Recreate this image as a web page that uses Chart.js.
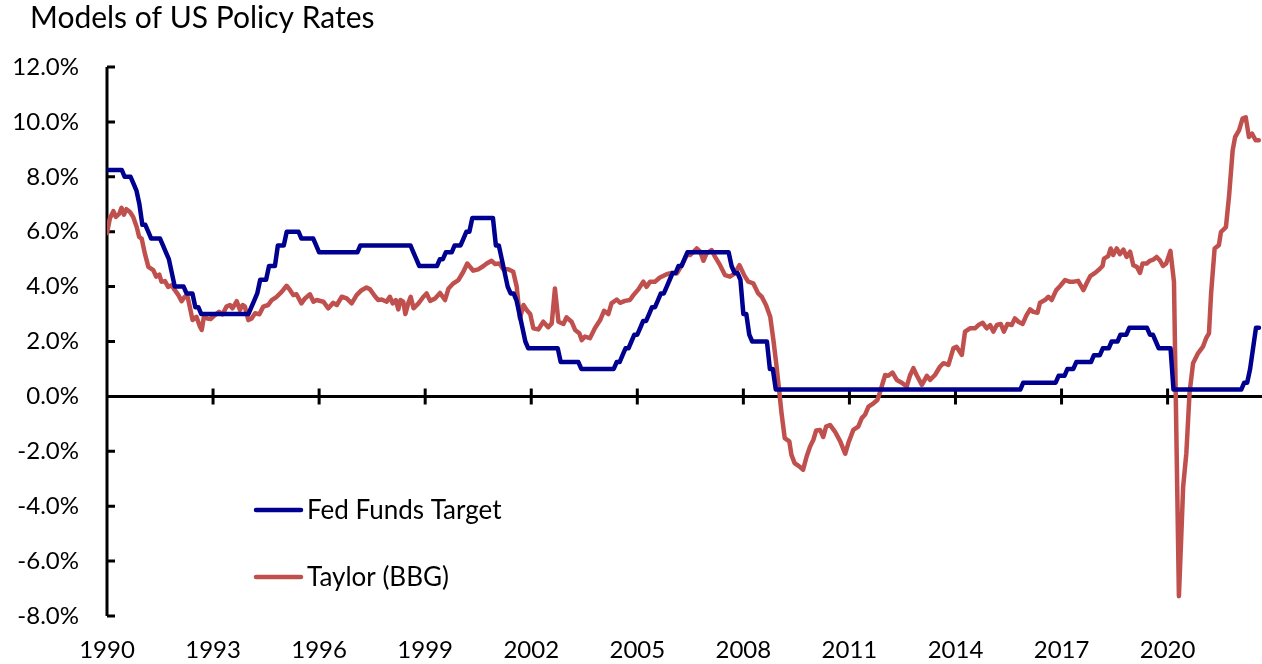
<!DOCTYPE html>
<html>
<head>
<meta charset="utf-8">
<title>Models of US Policy Rates</title>
<script src="https://cdn.jsdelivr.net/npm/chart.js@4.4.1/dist/chart.umd.min.js"></script>
<style>
body { margin: 0; background: #fff; }
#wrap { width: 1262px; height: 664px; position: relative; }
</style>
</head>
<body>
<div id="wrap"><canvas id="myCanvas" width="1262" height="664"></canvas></div>
<script>
var chartTitle = 'Models of US Policy Rates';
var seriesNames = ['Fed Funds Target', 'Taylor (BBG)'];
var xTickYears = [1990, 1993, 1996, 1999, 2002, 2005, 2008, 2011, 2014, 2017, 2020];
var yTickValues = [-8, -6, -4, -2, 0, 2, 4, 6, 8, 10, 12];

// Fed funds target, month end, Jan 1990 .. Aug 2022
var fedStartYear = 1990;
var fedFunds = [
	8.25,8.25,8.25,8.25,8.25,8.25,8.0,8.0,8.0,7.75,7.5,7.0,      // 1990
	6.25,6.25,6.0,5.75,5.75,5.75,5.75,5.5,5.25,5.0,4.5,4.0,      // 1991
	4.0,4.0,4.0,3.75,3.75,3.75,3.25,3.25,3.0,3.0,3.0,3.0,        // 1992
	3.0,3.0,3.0,3.0,3.0,3.0,3.0,3.0,3.0,3.0,3.0,3.0,             // 1993
	3.0,3.25,3.5,3.75,4.25,4.25,4.25,4.75,4.75,4.75,5.5,5.5,     // 1994
	5.5,6.0,6.0,6.0,6.0,6.0,5.75,5.75,5.75,5.75,5.75,5.5,        // 1995
	5.25,5.25,5.25,5.25,5.25,5.25,5.25,5.25,5.25,5.25,5.25,5.25, // 1996
	5.25,5.25,5.5,5.5,5.5,5.5,5.5,5.5,5.5,5.5,5.5,5.5,           // 1997
	5.5,5.5,5.5,5.5,5.5,5.5,5.5,5.5,5.25,5.0,4.75,4.75,          // 1998
	4.75,4.75,4.75,4.75,4.75,5.0,5.0,5.25,5.25,5.25,5.5,5.5,     // 1999
	5.5,5.75,6.0,6.0,6.5,6.5,6.5,6.5,6.5,6.5,6.5,6.5,            // 2000
	5.5,5.5,5.0,4.5,4.0,3.75,3.75,3.5,3.0,2.5,2.0,1.75,          // 2001
	1.75,1.75,1.75,1.75,1.75,1.75,1.75,1.75,1.75,1.75,1.25,1.25, // 2002
	1.25,1.25,1.25,1.25,1.25,1.0,1.0,1.0,1.0,1.0,1.0,1.0,        // 2003
	1.0,1.0,1.0,1.0,1.0,1.25,1.25,1.5,1.75,1.75,2.0,2.25,        // 2004
	2.25,2.5,2.75,2.75,3.0,3.25,3.25,3.5,3.75,3.75,4.0,4.25,     // 2005
	4.5,4.5,4.75,4.75,5.0,5.25,5.25,5.25,5.25,5.25,5.25,5.25,    // 2006
	5.25,5.25,5.25,5.25,5.25,5.25,5.25,5.25,4.75,4.5,4.5,4.25,   // 2007
	3.0,3.0,2.25,2.0,2.0,2.0,2.0,2.0,2.0,1.0,1.0,0.25,           // 2008
	0.25,0.25,0.25,0.25,0.25,0.25,0.25,0.25,0.25,0.25,0.25,0.25, // 2009
	0.25,0.25,0.25,0.25,0.25,0.25,0.25,0.25,0.25,0.25,0.25,0.25, // 2010
	0.25,0.25,0.25,0.25,0.25,0.25,0.25,0.25,0.25,0.25,0.25,0.25, // 2011
	0.25,0.25,0.25,0.25,0.25,0.25,0.25,0.25,0.25,0.25,0.25,0.25, // 2012
	0.25,0.25,0.25,0.25,0.25,0.25,0.25,0.25,0.25,0.25,0.25,0.25, // 2013
	0.25,0.25,0.25,0.25,0.25,0.25,0.25,0.25,0.25,0.25,0.25,0.25, // 2014
	0.25,0.25,0.25,0.25,0.25,0.25,0.25,0.25,0.25,0.25,0.25,0.5,  // 2015
	0.5,0.5,0.5,0.5,0.5,0.5,0.5,0.5,0.5,0.5,0.5,0.75,            // 2016
	0.75,0.75,1.0,1.0,1.0,1.25,1.25,1.25,1.25,1.25,1.25,1.5,     // 2017
	1.5,1.5,1.75,1.75,1.75,2.0,2.0,2.0,2.25,2.25,2.25,2.5,       // 2018
	2.5,2.5,2.5,2.5,2.5,2.5,2.25,2.25,2.0,1.75,1.75,1.75,        // 2019
	1.75,1.75,0.25,0.25,0.25,0.25,0.25,0.25,0.25,0.25,0.25,0.25, // 2020
	0.25,0.25,0.25,0.25,0.25,0.25,0.25,0.25,0.25,0.25,0.25,0.25, // 2021
	0.25,0.25,0.5,0.5,1.0,1.75,2.5,2.5                           // 2022
];

// Taylor rule (BBG)
var taylorDates = [
	1990.00,1990.08,1990.18,1990.25,1990.35,1990.41,1990.48,1990.55,1990.65,1990.74,1990.84,1990.91,1990.98,
	1991.07,1991.17,1991.31,1991.39,1991.48,1991.54,1991.64,1991.73,1991.83,1991.92,
	1992.02,1992.11,1992.20,1992.27,1992.35,1992.42,1992.53,1992.63,1992.68,1992.74,1992.84,1992.93,
	1993.05,1993.17,1993.27,1993.38,1993.48,1993.55,1993.67,1993.76,1993.84,1993.90,
	1994.00,1994.09,1994.19,1994.31,1994.42,1994.56,1994.66,1994.80,1994.94,
	1995.08,1995.18,1995.27,1995.36,1995.50,1995.60,1995.74,1995.84,1995.93,
	1996.12,1996.26,1996.40,1996.50,1996.64,1996.78,1996.92,
	1997.06,1997.20,1997.34,1997.44,1997.58,1997.67,1997.77,1997.91,
	1998.00,1998.08,1998.17,1998.24,1998.30,1998.38,1998.44,1998.52,1998.59,1998.67,1998.81,1998.95,
	1999.04,1999.14,1999.28,1999.42,1999.56,1999.66,1999.80,1999.94,
	2000.08,2000.19,2000.36,2000.50,2000.65,2000.74,2000.88,2000.98,
	2001.10,2001.21,2001.35,2001.49,2001.59,2001.68,2001.78,2001.87,2001.97,
	2002.06,2002.20,2002.34,2002.48,2002.58,2002.67,2002.77,2002.91,
	2003.00,2003.14,2003.24,2003.36,2003.43,2003.52,2003.66,2003.80,2003.95,
	2004.06,2004.18,2004.27,2004.42,2004.51,2004.65,2004.79,2004.89,
	2005.03,2005.17,2005.26,2005.36,2005.50,2005.64,2005.83,2005.97,
	2006.12,2006.26,2006.40,2006.49,2006.59,2006.68,2006.78,2006.87,2006.96,
	2007.10,2007.20,2007.34,2007.48,2007.62,2007.76,2007.89,
	2008.03,2008.14,2008.28,2008.42,2008.52,2008.64,2008.76,2008.85,2008.94,
	2009.02,2009.08,2009.17,2009.30,2009.36,2009.45,2009.58,2009.69,2009.79,2009.89,2009.98,
	2010.06,2010.17,2010.26,2010.34,2010.45,2010.59,2010.74,2010.88,2010.97,
	2011.11,2011.25,2011.35,2011.44,2011.54,2011.68,2011.79,2011.87,
	2012.01,2012.10,2012.22,2012.34,2012.48,2012.62,2012.71,2012.81,2012.90,
	2013.05,2013.19,2013.28,2013.42,2013.56,2013.66,2013.80,2013.94,
	2014.03,2014.18,2014.27,2014.41,2014.55,2014.65,2014.77,2014.88,2014.98,
	2015.07,2015.17,2015.28,2015.37,2015.47,2015.59,2015.68,2015.78,2015.90,
	2016.01,2016.11,2016.20,2016.32,2016.39,2016.53,2016.63,2016.72,2016.85,2016.96,
	2017.10,2017.22,2017.35,2017.47,2017.62,2017.71,2017.81,2017.95,
	2018.07,2018.16,2018.20,2018.32,2018.39,2018.46,2018.56,2018.65,2018.75,2018.84,2018.94,
	2019.03,2019.13,2019.22,2019.29,2019.41,2019.50,2019.59,2019.69,2019.78,2019.87,2019.96,
	2020.08,2020.18,2020.32,2020.39,2020.44,2020.53,2020.62,2020.72,2020.86,
	2021.00,2021.09,2021.17,2021.23,2021.33,2021.45,2021.51,2021.65,2021.74,2021.84,2021.91,
	2022.02,2022.12,2022.21,2022.30,2022.39,2022.49,2022.58
];
var taylorValues = [
	5.95,6.48,6.75,6.54,6.66,6.87,6.62,6.82,6.72,6.54,6.17,5.81,5.75,
	5.21,4.72,4.60,4.36,4.44,4.18,4.20,3.99,4.05,3.87,
	3.69,3.47,3.63,3.69,3.21,2.78,2.90,2.54,2.42,2.90,2.84,2.82,
	2.96,3.08,2.99,3.27,3.33,3.21,3.47,3.15,3.33,3.27,
	2.78,2.84,3.03,2.99,3.27,3.33,3.51,3.63,3.81,
	4.03,3.87,3.69,3.72,3.39,3.57,3.72,3.45,3.51,
	3.45,3.21,3.41,3.33,3.63,3.57,3.39,
	3.69,3.87,3.97,3.90,3.65,3.51,3.53,3.45,
	3.63,3.39,3.51,3.17,3.51,3.45,3.00,3.39,3.63,3.21,3.39,3.63,
	3.75,3.48,3.57,3.77,3.51,3.93,4.12,4.24,
	4.54,4.84,4.58,4.63,4.75,4.84,4.94,4.82,
	4.84,4.63,4.63,4.54,3.99,2.84,3.33,3.15,3.00,
	2.48,2.44,2.72,2.52,2.66,3.93,2.72,2.64,
	2.88,2.72,2.42,2.30,2.05,2.18,2.12,2.48,2.78,
	3.12,3.00,3.39,3.53,3.41,3.48,3.51,3.69,
	3.90,4.18,3.99,4.18,4.18,4.33,4.45,4.50,
	4.48,4.78,5.15,5.15,5.27,5.39,5.27,4.94,5.21,
	5.33,5.08,4.78,4.42,4.36,4.48,4.78,
	4.40,4.18,4.12,3.75,3.63,3.33,2.90,2.05,1.08,
	0.12,-0.61,-1.52,-1.64,-2.13,-2.43,-2.55,-2.67,-2.19,-1.82,-1.58,
	-1.24,-1.22,-1.48,-1.10,-1.04,-1.28,-1.64,-2.09,-1.70,
	-1.22,-1.10,-0.79,-0.67,-0.37,-0.25,-0.13,0.17,
	0.78,0.75,0.87,0.60,0.50,0.36,0.75,1.03,0.78,
	0.42,0.75,0.60,0.78,1.08,1.21,1.15,1.75,
	1.81,1.51,2.36,2.48,2.48,2.60,2.68,2.48,2.60,
	2.36,2.60,2.64,2.36,2.64,2.60,2.84,2.72,2.64,
	2.96,3.17,3.08,3.05,3.41,3.51,3.63,3.51,3.87,4.02,
	4.24,4.18,4.18,4.21,3.87,4.12,4.38,4.50,
	4.63,4.75,5.02,5.11,5.39,5.15,5.39,5.18,5.35,5.08,5.27,
	4.78,4.72,4.50,4.84,4.84,4.94,4.98,5.08,4.96,4.75,4.84,
	5.30,4.18,-7.28,-4.97,-3.28,-2.07,0.12,1.21,1.57,
	1.81,2.12,2.30,3.75,5.39,5.51,5.99,6.17,7.33,8.96,9.45,
	9.69,10.12,10.17,9.45,9.57,9.33,9.33
];

var fedColor = '#000090';
var taylorColor = '#C0504D';
var fontName = 'Lato, "Open Sans", sans-serif';

var fedPoints = fedFunds.map(function(v, i) { return {x: fedStartYear + i / 12, y: v}; });
var taylorPoints = taylorValues.map(function(v, i) { return {x: taylorDates[i], y: v}; });

// axis lines, tick marks, title and the legend inside the plot
var decor = {
	id: 'decor',
	beforeDatasetsDraw: function(chart) {
		var ctx = chart.ctx, a = chart.chartArea;
		var xs = chart.scales.x, ys = chart.scales.y;
		ctx.save();
		ctx.strokeStyle = '#000';
		ctx.lineWidth = 3;
		ctx.beginPath();
		ctx.moveTo(a.left, a.top); ctx.lineTo(a.left, a.bottom);
		var y0 = ys.getPixelForValue(0);
		ctx.moveTo(a.left, y0); ctx.lineTo(a.right, y0);
		yTickValues.forEach(function(v) {
			var py = ys.getPixelForValue(v);
			ctx.moveTo(a.left, py); ctx.lineTo(a.left + 8, py);
		});
		xTickYears.forEach(function(v) {
			var px = xs.getPixelForValue(v);
			ctx.moveTo(px, y0 - 8); ctx.lineTo(px, y0 + 8);
		});
		ctx.stroke();
		ctx.restore();
	},
	afterDatasetsDraw: function(chart) {
		var ctx = chart.ctx;
		ctx.save();
		ctx.fillStyle = '#000';
		ctx.textBaseline = 'alphabetic';
		ctx.textAlign = 'left';
		ctx.font = '30px ' + fontName;
		ctx.fillText(chartTitle, 30, 28);
		var rows = [[510, fedColor], [577, taylorColor]];
		ctx.font = '26px ' + fontName;
		ctx.textBaseline = 'middle';
		rows.forEach(function(r, i) {
			ctx.strokeStyle = r[1];
			ctx.lineWidth = 4.5;
			ctx.lineCap = 'round';
			ctx.beginPath();
			ctx.moveTo(256, r[0]); ctx.lineTo(301, r[0]);
			ctx.stroke();
			ctx.fillText(seriesNames[i], 307, r[0] + 1);
		});
		ctx.restore();
	}
};

var ctx = document.getElementById('myCanvas').getContext('2d');
var myChart = new Chart(ctx, {
	type: 'line',
	data: {
		datasets: [{
			label: seriesNames[0],
			data: fedPoints,
			borderColor: fedColor,
			borderWidth: 4.5,
			pointRadius: 0,
			borderJoinStyle: 'round',
			borderCapStyle: 'round',
			fill: false
		}, {
			label: seriesNames[1],
			data: taylorPoints,
			borderColor: taylorColor,
			borderWidth: 4.5,
			pointRadius: 0,
			borderJoinStyle: 'round',
			borderCapStyle: 'round',
			fill: false
		}]
	},
	options: {
		responsive: false,
		animation: false,
		layout: { padding: { top: 67, left: 0, right: 0, bottom: 0 } },
		plugins: {
			legend: { display: false },
			title: { display: false },
			tooltip: { enabled: false }
		},
		scales: {
			x: {
				type: 'linear',
				min: 1990,
				max: 2022.67,
				border: { display: false },
				grid: { display: false, drawTicks: false },
				afterBuildTicks: function(s) { s.ticks = xTickYears.map(function(v) { return {value: v}; }); },
				afterFit: function(s) { s.height = 48; },
				ticks: {
					autoSkip: false,
					maxRotation: 0,
					padding: 20,
					color: '#000',
					font: { family: fontName, size: 24 },
					callback: function(v) { return String(v); }
				}
			},
			y: {
				min: -8,
				max: 12,
				border: { display: false },
				grid: { display: false, drawTicks: false },
				afterBuildTicks: function(s) { s.ticks = yTickValues.map(function(v) { return {value: v}; }); },
				afterFit: function(s) { s.width = 107; },
				ticks: {
					padding: 28,
					color: '#000',
					font: { family: fontName, size: 24 },
					callback: function(v) { return v.toFixed(1) + '%'; }
				}
			}
		}
	},
	plugins: [decor]
});
</script>
</body>
</html>
